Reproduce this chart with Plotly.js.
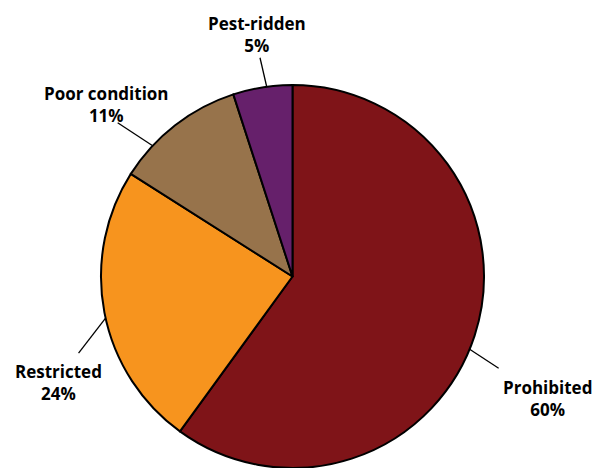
<!DOCTYPE html>
<html>
<head>
<meta charset="utf-8">
<script src="https://cdn.plot.ly/plotly-3.0.1.min.js"></script>
<style>html,body{margin:0;padding:0;background:#fff;}#chart{width:598px;height:468px;}</style>
</head>
<body>
<div id="chart"></div>
<script>
// Data
const labels = ['Prohibited', 'Restricted', 'Poor condition', 'Pest-ridden'];
const values = [60, 24, 11, 5];
const colors = ['#7f1418', '#f7941e', '#97734b', '#66206b'];

// Label placement (style): where along the slice the leader starts, leader vector (px), text offset from leader end (px)
const leaderFrac = [0.52, 0.48, 0.27, 0.57];
const leaderVec = [[29, 19], [-27, 35], [-35, -23], [-6.7, -29]];
const textOff = [[49, 30], [-20, 29], [-11, -18], [-3, -23]];

const W = 598, H = 468;
const M = {l: 100, r: 113, t: 85, b: 0};
const PW = W - M.l - M.r, PH = H - M.t - M.b;
const cx = M.l + PW / 2, cy = M.t + PH / 2, R = Math.min(PW, PH) / 2;
const toX = px => (px - M.l) / PW;
const toY = py => 1 - (py - M.t) / PH;

const total = values.reduce((a, b) => a + b, 0);
const shapes = [], annotations = [];
let cum = 0;
values.forEach((v, i) => {
  const th = 2 * Math.PI * (cum + leaderFrac[i] * v) / total;
  cum += v;
  const x0 = cx + R * Math.sin(th), y0 = cy - R * Math.cos(th);
  const x1 = x0 + leaderVec[i][0], y1 = y0 + leaderVec[i][1];
  shapes.push({type: 'line', xref: 'paper', yref: 'paper', x0: toX(x0), y0: toY(y0), x1: toX(x1), y1: toY(y1),
    line: {color: '#000', width: 1.3}});
  annotations.push({xref: 'paper', yref: 'paper', x: toX(x1 + textOff[i][0]), y: toY(y1 + textOff[i][1]),
    xanchor: 'center', yanchor: 'middle', align: 'center', showarrow: false,
    text: '<b>' + labels[i] + '<br>' + v + '%</b>',
    font: {family: 'Open Sans, sans-serif', size: 17, color: '#000'}});
});

const trace = {
  type: 'pie', labels: labels, values: values, sort: false, direction: 'clockwise', rotation: 0,
  marker: {colors: colors, line: {color: '#000', width: 2}},
  textinfo: 'none', hoverinfo: 'none', showlegend: false
};

Plotly.newPlot('chart', [trace], {
  width: W, height: H, margin: M, paper_bgcolor: '#fff', plot_bgcolor: '#fff',
  shapes: shapes, annotations: annotations, showlegend: false
}, {displayModeBar: false, staticPlot: true});
</script>
</body>
</html>
